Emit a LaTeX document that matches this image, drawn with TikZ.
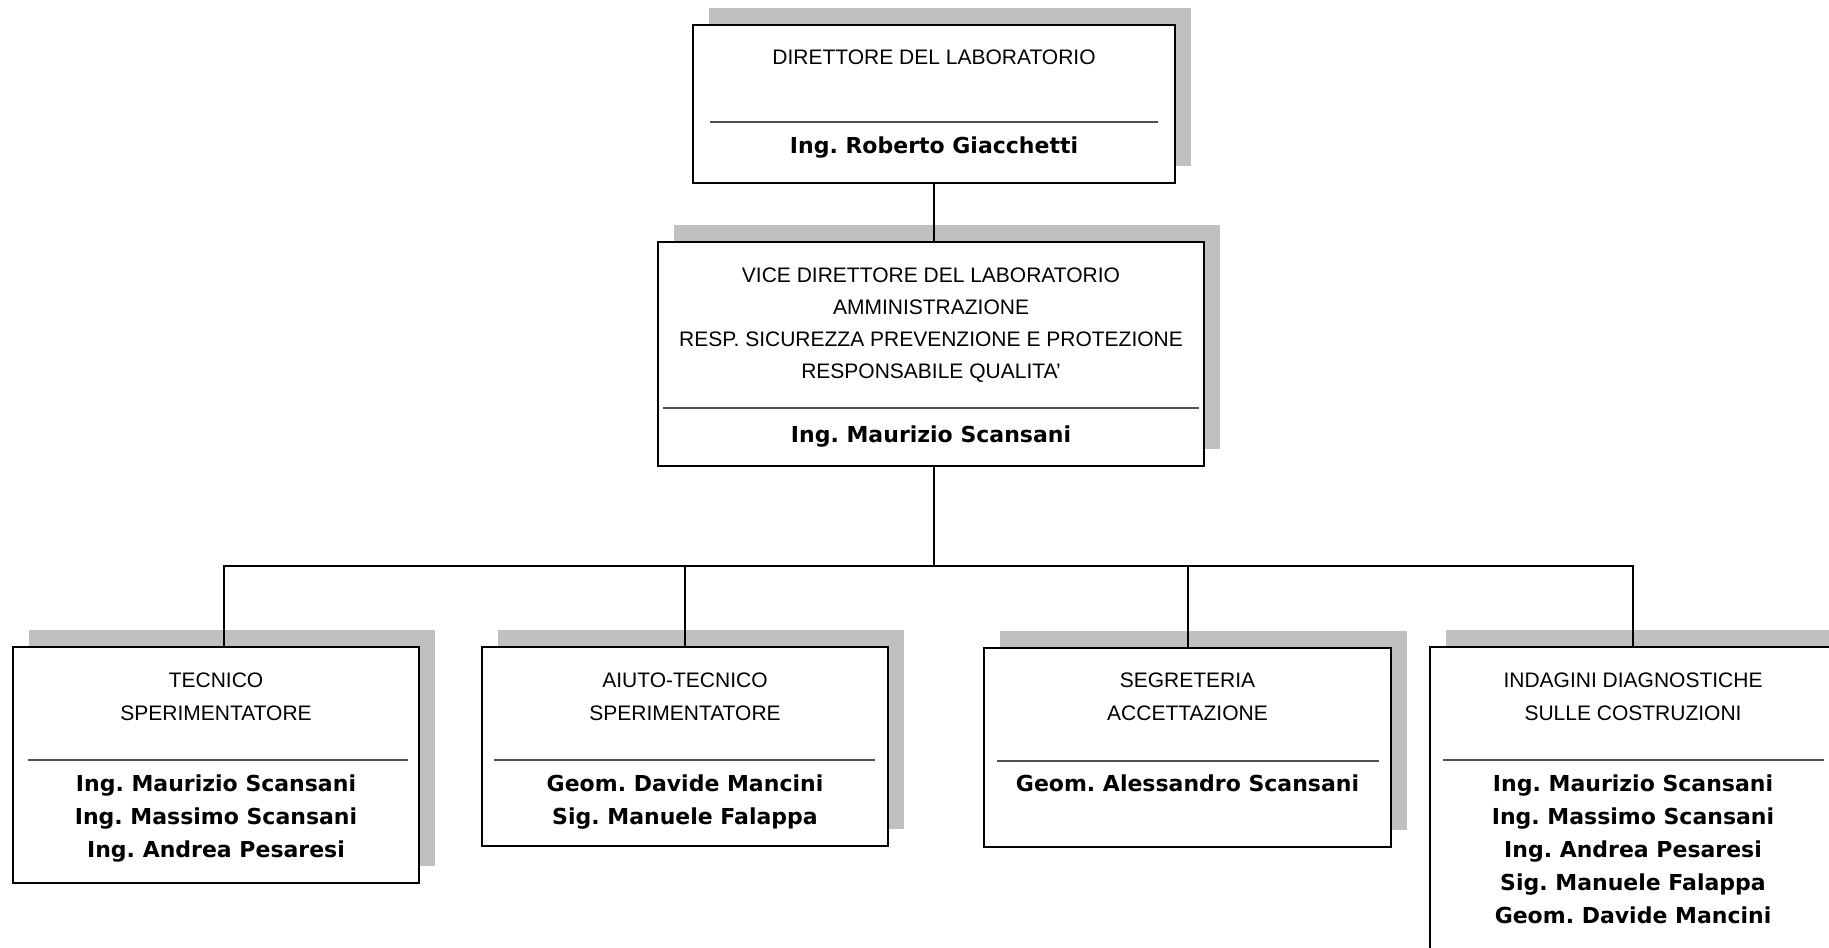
\documentclass[tikz,border=0pt]{standalone}
\usepackage{fontspec}
\setmainfont{Liberation Sans}
\newfontfamily\namefamily{DejaVu Sans}
\usetikzlibrary{shadows,calc}
\definecolor{shadowgray}{HTML}{C0C0C0}
\definecolor{divgray}{HTML}{505050}
\frenchspacing
\begin{document}
\begin{tikzpicture}[x=0.5pt,y=-0.5pt,
  box/.style={draw=black, line width=1.1pt, fill=white, inner sep=0pt, rectangle,
    drop shadow={shadow xshift=8pt, shadow yshift=8.5pt, fill=shadowgray, opacity=1}},
  conn/.style={draw=black, line width=1pt},
  divider/.style={draw=divgray, line width=0.7pt},
  hd/.style={anchor=base, inner sep=0pt, font=\fontsize{10.5pt}{12pt}\selectfont},
  nm/.style={anchor=base, inner sep=0pt, font=\namefamily\bfseries\fontsize{11pt}{13pt}\selectfont}]
\useasboundingbox (0,0) rectangle (1829,947);
\clip (0,0) rectangle (1829,947);

% boxes
\node[box, minimum width=241pt, minimum height=79pt] (top) at (934,104) {};
\node[box, minimum width=273pt, minimum height=112pt] (vice) at (931,354) {};
\node[box, minimum width=203pt, minimum height=118pt] (b1) at (216,765) {};
\node[box, minimum width=203pt, minimum height=99.5pt] (b2) at (685,746.5) {};
\node[box, minimum width=203.5pt, minimum height=99.5pt] (b3) at (1187.5,747.5) {};
\node[box, minimum width=203pt, minimum height=166.5pt] (b4) at (1633,813.5) {};

% connectors
\coordinate (bus) at (934,566);
\coordinate (c1) at ($(b1.north)+(8,0)$);
\draw[conn] (top.south) -- (top.south |- vice.north);
\draw[conn] (bus |- vice.south) -- (bus);
\draw[conn] (c1) -- (c1 |- bus) -- (b4.north |- bus) -- (b4.north);
\draw[conn] (b2.north) -- (b2.north |- bus);
\draw[conn] (b3.north) -- (b3.north |- bus);

% dividers
\draw[divider] (710,122) -- (1158,122);
\draw[divider] (663,408) -- (1199,408);
\draw[divider] (28,760) -- (408,760);
\draw[divider] (494,760) -- (875,760);
\draw[divider] (997,761) -- (1379,761);
\draw[divider] (1443,760) -- (1824,760);

% top box texts
\node[hd] (t1) at (934,65) {DIRETTORE DEL LABORATORIO};
\node[nm] (n1) at (934,154) {Ing. Roberto Giacchetti};

% vice box texts
\node[hd] (t2a) at (931,282) {VICE DIRETTORE DEL LABORATORIO};
\node[hd] (t2b) at (931,314) {AMMINISTRAZIONE};
\node[hd] (t2c) at (931,346) {RESP. SICUREZZA PREVENZIONE E PROTEZIONE};
\node[hd] (t2d) at (931,378) {RESPONSABILE QUALITA'};
\node[nm] (n2) at (931,442) {Ing. Maurizio Scansani};

% box 1
\node[hd] (t3a) at (216,687) {TECNICO};
\node[hd] (t3b) at (216,720) {SPERIMENTATORE};
\node[nm] (n3a) at (216,791) {Ing. Maurizio Scansani};
\node[nm] (n3b) at (216,824) {Ing. Massimo Scansani};
\node[nm] (n3c) at (216,857) {Ing. Andrea Pesaresi};

% box 2
\node[hd] (t4a) at (685,687) {AIUTO-TECNICO};
\node[hd] (t4b) at (685,720) {SPERIMENTATORE};
\node[nm] (n4a) at (685,791) {Geom. Davide Mancini};
\node[nm] (n4b) at (685,824) {Sig. Manuele Falappa};

% box 3
\node[hd] (t5a) at (1187.5,687) {SEGRETERIA};
\node[hd] (t5b) at (1187.5,720) {ACCETTAZIONE};
\node[nm] (n5a) at (1187.5,791) {Geom. Alessandro Scansani};

% box 4
\node[hd] (t6a) at (1633,687) {INDAGINI DIAGNOSTICHE};
\node[hd] (t6b) at (1633,720) {SULLE COSTRUZIONI};
\node[nm] (n6a) at (1633,791) {Ing. Maurizio Scansani};
\node[nm] (n6b) at (1633,824) {Ing. Massimo Scansani};
\node[nm] (n6c) at (1633,857) {Ing. Andrea Pesaresi};
\node[nm] (n6d) at (1633,890) {Sig. Manuele Falappa};
\node[nm] (n6e) at (1633,923) {Geom. Davide Mancini};
\end{tikzpicture}
\end{document}
